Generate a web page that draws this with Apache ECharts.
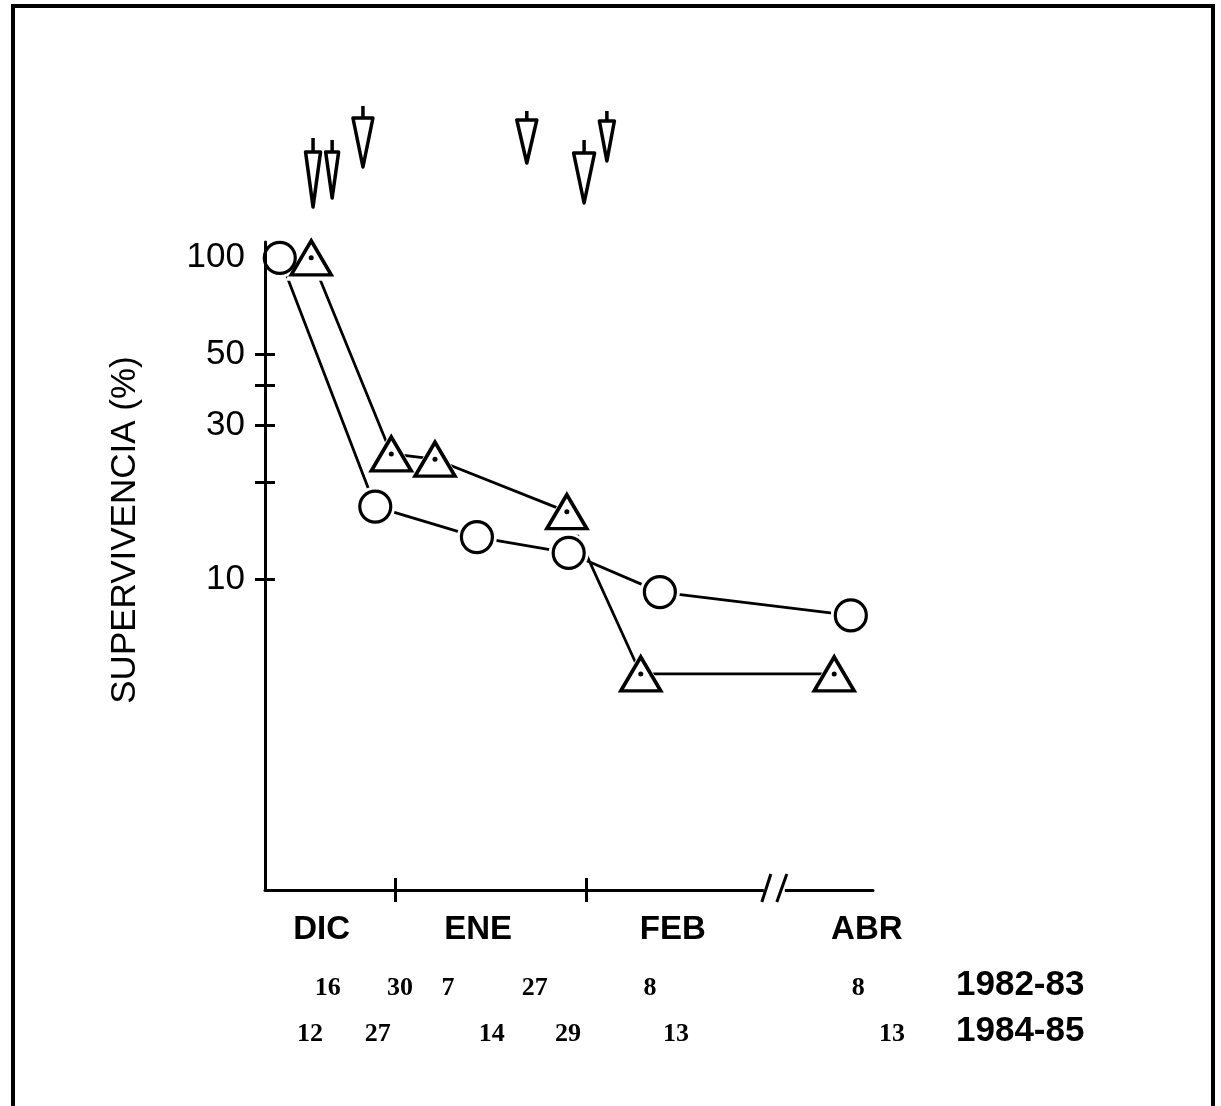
<!DOCTYPE html>
<html>
<head>
<meta charset="utf-8">
<title>Supervivencia</title>
<script src="https://cdn.jsdelivr.net/npm/echarts@6/dist/echarts.min.js"></script>
<style>
  html, body { margin: 0; padding: 0; background: #fff; }
  #chart { width: 1221px; height: 1106px; }
</style>
</head>
<body>
<div id="chart"></div>
<script>
// eje x: dias desde el 1 de enero (eje comprimido despues del corte)
const xTriangulos = [-13.6, -0.6, 6.5, 27.9, 39.9, 71.3];   // 1982-83
const yTriangulos = [100, 24.5, 23.6, 16.2, 5.06, 5.06];
const xCirculos = [-18.7, -3.2, 13.3, 28.2, 43.0, 74.0];    // 1984-85
const yCirculos = [100, 16.8, 13.5, 12.05, 9.1, 7.7];

// flechas (tratamientos)
const flechas = [-13.3, -10.2, -5.2, 21.4, 30.7, 34.4];

const meses = ['DIC', 'ENE', 'FEB', 'ABR'];
const mesesPos = [-11.9, 13.5, 45.1, 76.6];
const limitesMes = [0, 31];

const fechas8283 = ['16', '30', '7', '27', '8', '8'];
const fechas8283Pos = [-10.9, 0.8, 8.6, 22.7, 41.4, 75.2];
const fechas8485 = ['12', '27', '14', '29', '13', '13'];
const fechas8485Pos = [-13.8, -2.8, 15.7, 28.1, 45.6, 80.7];
const temporadas = ['1982-83', '1984-85'];
const temporadaPos = 101.5;

const yTicks = [50, 40, 30, 20, 10];
const yLabels = [100, 50, 30, 10];
const corteX = 61.5;

const X_MIN = -21.1, X_MAX = 77.6, X_MAX_FILAS = 114.45;
const Y_MIN = 1.075, Y_MAX = 112;

// forma de cada flecha dibujada a mano (px respecto al borde superior del grid)
const flechaForma = [
  { tallo: -104, base: -90, punta: -35, ancho: 15 },
  { tallo: -102, base: -90, punta: -44, ancho: 13 },
  { tallo: -136, base: -124, punta: -75, ancho: 20 },
  { tallo: -131, base: -122, punta: -79, ancho: 20 },
  { tallo: -102, base: -89, punta: -39, ancho: 21 },
  { tallo: -131, base: -121, punta: -81, ancho: 15 }
];

function etiqueta(valores, textos) {
  return function (v) {
    const i = valores.findIndex(p => Math.abs(p - v) < 1e-6);
    return i < 0 ? '' : textos[i];
  };
}
function filaFormatter(pos, textos, anio) {
  return function (v) {
    if (Math.abs(v - temporadaPos) < 1e-6) return '{y|' + anio + '}';
    const i = pos.findIndex(p => Math.abs(p - v) < 1e-6);
    return i < 0 ? '' : '{d|' + textos[i] + '}';
  };
}
const filaRich = {
  d: { fontFamily: 'Liberation Serif', fontWeight: 'bold', fontSize: 26, color: '#000' },
  y: { fontFamily: 'Liberation Sans', fontWeight: 'bold', fontSize: 35, color: '#000', padding: [0, 0, 6, 0] }
};

const puntos = (xs, ys) => xs.map((x, i) => [x, ys[i]]);
const negro = '#000';

const myChart = echarts.init(document.getElementById('chart'));
const option = {
  backgroundColor: '#fff',
  animation: false,
  graphic: [{
    type: 'rect', z: 100,
    shape: { x: 13, y: 6, width: 1200, height: 1200 },
    style: { fill: 'none', stroke: negro, lineWidth: 4 }
  }],
  grid: [
    { left: 265, right: 348, top: 242, bottom: 216, outerBoundsMode: 'none' },
    { left: 265, width: 835, top: 900, height: 40, outerBoundsMode: 'none' }
  ],
  xAxis: [
    {
      type: 'value', gridIndex: 0, position: 'bottom', min: X_MIN, max: X_MAX, z: 10,
      splitLine: { show: false },
      axisLine: { onZero: false, lineStyle: { color: negro, width: 3 } },
      axisTick: { customValues: limitesMes, length: 12, lineStyle: { color: negro, width: 3 } },
      axisLabel: {
        customValues: mesesPos, formatter: etiqueta(mesesPos, meses),
        margin: 40, verticalAlign: 'middle',
        fontFamily: 'Liberation Sans', fontWeight: 'bold', fontSize: 33, color: negro
      }
    },
    {
      type: 'value', gridIndex: 0, position: 'bottom', min: X_MIN, max: X_MAX, z: 10,
      splitLine: { show: false },
      axisLine: { show: false, onZero: false },
      axisTick: { customValues: limitesMes, inside: true, length: 12, lineStyle: { color: negro, width: 3 } },
      axisLabel: { show: false }
    },
    {
      type: 'value', gridIndex: 1, position: 'bottom', min: X_MIN, max: X_MAX_FILAS,
      splitLine: { show: false }, axisLine: { show: false, onZero: false }, axisTick: { show: false },
      axisLabel: {
        customValues: fechas8283Pos.concat([temporadaPos]),
        formatter: filaFormatter(fechas8283Pos, fechas8283, temporadas[0]),
        rich: filaRich, margin: 48, verticalAlign: 'middle'
      }
    },
    {
      type: 'value', gridIndex: 1, position: 'bottom', min: X_MIN, max: X_MAX_FILAS, offset: 46,
      splitLine: { show: false }, axisLine: { show: false, onZero: false }, axisTick: { show: false },
      axisLabel: {
        customValues: fechas8485Pos.concat([temporadaPos]),
        formatter: filaFormatter(fechas8485Pos, fechas8485, temporadas[1]),
        rich: filaRich, margin: 48, verticalAlign: 'middle'
      }
    }
  ],
  yAxis: [
    {
      type: 'log', logBase: 10, gridIndex: 0, position: 'left', min: Y_MIN, max: Y_MAX, z: 10,
      splitLine: { show: false },
      axisLine: { onZero: false, lineStyle: { color: negro, width: 3 } },
      axisTick: { customValues: yTicks, length: 10, lineStyle: { color: negro, width: 3 } },
      axisLabel: {
        customValues: yLabels, margin: 20,
        fontFamily: 'Liberation Sans', fontSize: 35, color: negro
      },
      name: 'SUPERVIVENCIA (%)', nameLocation: 'middle', nameGap: 122, nameRotate: 90,
      nameTextStyle: { fontFamily: 'Liberation Sans', fontSize: 35, color: negro, padding: [0, 0, 0, 72] }
    },
    {
      type: 'log', logBase: 10, gridIndex: 0, position: 'left', min: Y_MIN, max: Y_MAX, z: 10,
      splitLine: { show: false },
      axisLine: { show: false, onZero: false },
      axisTick: { customValues: yTicks, inside: true, length: 10, lineStyle: { color: negro, width: 3 } },
      axisLabel: { show: false }
    },
    { type: 'value', gridIndex: 1, show: false, min: 0, max: 1 }
  ],
  series: [
    {
      name: '1982-83', type: 'line', data: puntos(xTriangulos, yTriangulos),
      showSymbol: false, lineStyle: { color: negro, width: 2.8 }, z: 2
    },
    {
      name: '1984-85', type: 'line', data: puntos(xCirculos, yCirculos),
      showSymbol: false, lineStyle: { color: negro, width: 2.8 }, z: 2
    },
    // halos blancos que dejan un hueco entre linea y marcador
    {
      type: 'scatter', data: puntos(xTriangulos, yTriangulos), symbol: 'triangle',
      symbolSize: [52, 46], itemStyle: { color: '#fff', opacity: 1 }, z: 3, silent: true
    },
    {
      type: 'scatter', data: puntos(xCirculos, yCirculos), symbol: 'circle',
      symbolSize: 40, itemStyle: { color: '#fff', opacity: 1 }, z: 3, silent: true
    },
    {
      type: 'scatter', data: puntos(xTriangulos, yTriangulos), symbol: 'triangle',
      symbolSize: [40, 34], itemStyle: { color: '#fff', borderColor: negro, borderWidth: 3.5, opacity: 1 }, z: 4
    },
    {
      type: 'scatter', data: puntos(xTriangulos, yTriangulos), symbol: 'circle',
      symbolSize: 5, itemStyle: { color: negro, opacity: 1 }, z: 5
    },
    {
      type: 'scatter', data: puntos(xCirculos, yCirculos), symbol: 'circle',
      symbolSize: 31, itemStyle: { color: '#fff', borderColor: negro, borderWidth: 3.2, opacity: 1 }, z: 4
    },
    // corte del eje x  //
    {
      type: 'custom', clip: false, z: 20, silent: true,
      data: [[corteX, Y_MIN]],
      renderItem: function (params, api) {
        const p = api.coord([api.value(0), api.value(1)]);
        return {
          type: 'group', children: [
            { type: 'rect', shape: { x: p[0] - 10, y: p[1] - 5, width: 21, height: 10 }, style: { fill: '#fff' } },
            { type: 'line', shape: { x1: p[0] - 12, y1: p[1] + 12, x2: p[0] - 3, y2: p[1] - 16 }, style: { stroke: negro, lineWidth: 3 } },
            { type: 'line', shape: { x1: p[0] + 3, y1: p[1] + 12, x2: p[0] + 13, y2: p[1] - 16 }, style: { stroke: negro, lineWidth: 3 } }
          ]
        };
      }
    },
    // flechas de tratamiento
    {
      type: 'custom', clip: false, z: 20, silent: true,
      data: flechas.map((x, i) => [x, Y_MAX, i]),
      renderItem: function (params, api) {
        const p = api.coord([api.value(0), api.value(1)]);
        const f = flechaForma[api.value(2)];
        const x = p[0], y = p[1];
        return {
          type: 'group', children: [
            { type: 'line', shape: { x1: x, y1: y + f.tallo, x2: x, y2: y + f.base }, style: { stroke: negro, lineWidth: 3.5 } },
            {
              type: 'polygon',
              shape: { points: [[x - f.ancho / 2, y + f.base], [x + f.ancho / 2, y + f.base], [x, y + f.punta]] },
              style: { fill: '#fff', stroke: negro, lineWidth: 3.5, lineJoin: 'round' }
            }
          ]
        };
      }
    }
  ]
};
myChart.setOption(option);
</script>
</body>
</html>
